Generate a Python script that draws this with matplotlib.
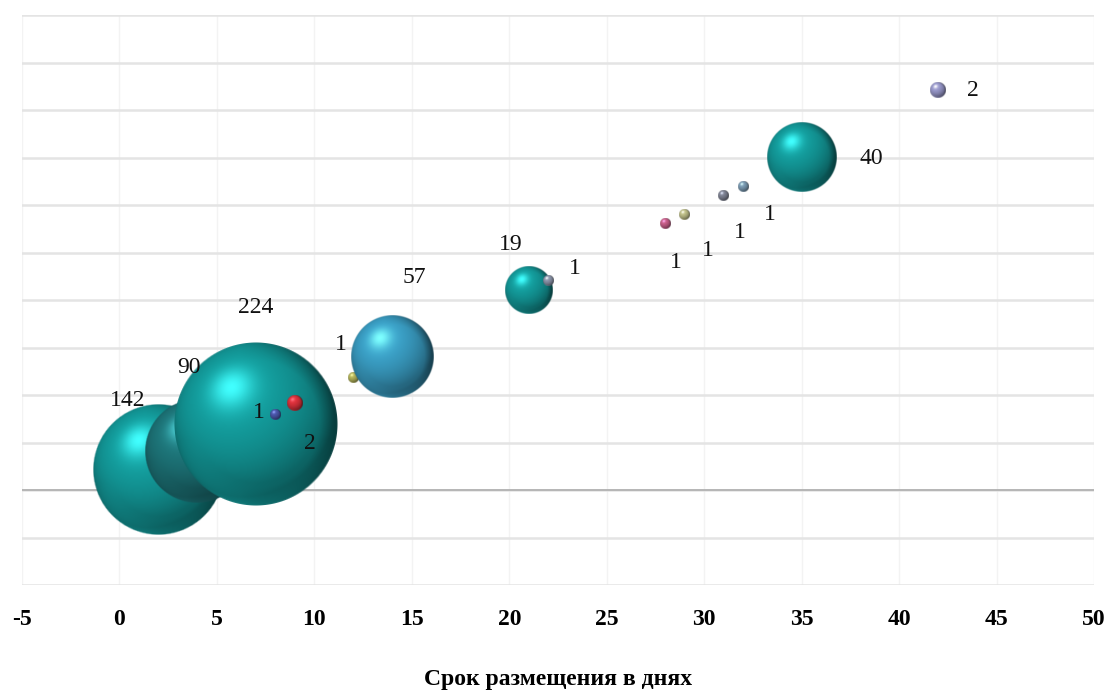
import numpy as np
import matplotlib
matplotlib.use("Agg")
import matplotlib.pyplot as plt
from matplotlib.transforms import offset_copy

# Placement term (days), vertical position and number of issues per bubble
days = [2, 4, 7, 8, 9, 12, 14, 21, 22, 28, 29, 31, 32, 35, 42]
level = [0.42, 0.82, 1.39, 1.58, 1.83, 2.36, 2.80, 4.21, 4.40, 5.60, 5.81, 6.19, 6.38, 7.00, 8.42]
counts = [142, 90, 224, 1, 2, 1, 57, 19, 1, 1, 1, 1, 1, 40, 2]

# Base colour of every sphere
colors = ["#139a9a", "#1d7478", "#139a9a", "#4a55a8", "#d8303a", "#b0b058",
          "#3a9ec4", "#139a9a", "#8a93a8", "#c45c86", "#bcbc86", "#7c8090",
          "#7898b0", "#139a9a", "#9696c8"]

# Data label offsets (points) relative to each bubble centre
label_dx = [-22, -6, 0, -12, 11, -9, 16, -13, 19, 8, 17, 12, 19, 50, 25]
label_dy = [50, 60, 84, 2, -29, 24, 57, 33, 9, -28, -26, -26, -20, -1, 0]

xticks = list(range(-5, 51, 5))
x_title = "Срок размещения в днях"

W, H, DPI = 1112, 690, 100
fig = plt.figure(figsize=(W / DPI, H / DPI), dpi=DPI)
fig.patch.set_facecolor("white")
ax_l, ax_r, ax_t, ax_b = 22, 1094, 15, 585
ax = fig.add_axes([ax_l / W, 1 - ax_b / H, (ax_r - ax_l) / W, (ax_b - ax_t) / H])
xmin, xmax, ymin, ymax = -5, 50, -2, 10

px_x = (ax_r - ax_l) / (xmax - xmin)
px_y = (ax_b - ax_t) / (ymax - ymin)


def sphere_rgba(hex_color, r_px, n=161):
    base = np.array(matplotlib.colors.to_rgb(hex_color))
    light = np.clip(base * 1.55 + 0.14, 0, 1)
    dark = base * 0.28
    u = np.linspace(-1, 1, n)
    X, Y = np.meshgrid(u, -u)
    rr = np.sqrt(X ** 2 + Y ** 2)
    Z = np.sqrt(np.clip(1 - rr ** 2, 0, 1))
    L = np.array([-0.30, 0.45, 0.84])
    L = L / np.linalg.norm(L)
    d = np.clip(X * L[0] + Y * L[1] + Z * L[2], 0, 1)
    shade = 0.38 + 0.72 * d
    rgb = dark[None, None, :] + (base - dark)[None, None, :] * np.clip(shade, 0, 1.2)[..., None]
    # concentrated highlight spot
    spec = np.clip(d, 0, 1) ** 28
    rgb = rgb * (1 - spec[..., None]) + light[None, None, :] * spec[..., None]
    # faint reflected light along the lower rim
    rim = np.clip((-Y - 0.2), 0, 1) * np.clip(rr - 0.72, 0, 1) * 2.0
    rgb = rgb + (base * 0.5)[None, None, :] * rim[..., None]
    # darkening of the right edge
    edge = np.clip(rr - 0.78, 0, 1) * np.clip(X + 0.2, 0, 1) * 2.5
    rgb = rgb * (1 - 0.55 * edge[..., None])
    rgb = np.clip(rgb, 0, 1)
    alpha = np.clip((1 - rr) * r_px + 0.5, 0, 1)
    return np.dstack([rgb, alpha])


k = 82 / np.sqrt(224)
for i, (xv, yv, c, col) in enumerate(zip(days, level, counts, colors)):
    r_px = k * np.sqrt(c)
    rx, ry = r_px / px_x, r_px / px_y
    img = sphere_rgba(col, r_px)
    ax.imshow(img, extent=(xv - rx, xv + rx, yv - ry, yv + ry), aspect="auto",
              interpolation="bilinear", zorder=3 + i)

for i, (xv, yv, c) in enumerate(zip(days, level, counts)):
    tr = offset_copy(ax.transData, fig=fig, x=label_dx[i], y=label_dy[i], units="points")
    ax.text(xv, yv, str(c), transform=tr, ha="center", va="center",
            fontsize=17, family="Liberation Serif", color="#111111", zorder=40)

ax.set_xlim(xmin, xmax)
ax.set_ylim(ymin, ymax)

for yv in range(ymin, ymax + 1):
    ax.axhline(yv, color="#e4e4e4", lw=1.8, zorder=0.5)
for xv in xticks:
    ax.axvline(xv, color="#f3f3f3", lw=1.0, zorder=0.4)
ax.axhline(0, color="#a8a8a8", lw=1.1, zorder=1)

for s in ax.spines.values():
    s.set_visible(False)
ax.set_yticks([])
ax.set_xticks(xticks)
ax.set_xticklabels([str(t) for t in xticks], fontsize=17, fontweight="bold",
                   family="Liberation Serif")
ax.tick_params(axis="x", length=0, pad=17)
ax.set_xlabel(x_title, fontsize=17, fontweight="bold", family="Liberation Serif",
              labelpad=28)

fig.savefig("out.png", dpi=DPI, facecolor="white")
